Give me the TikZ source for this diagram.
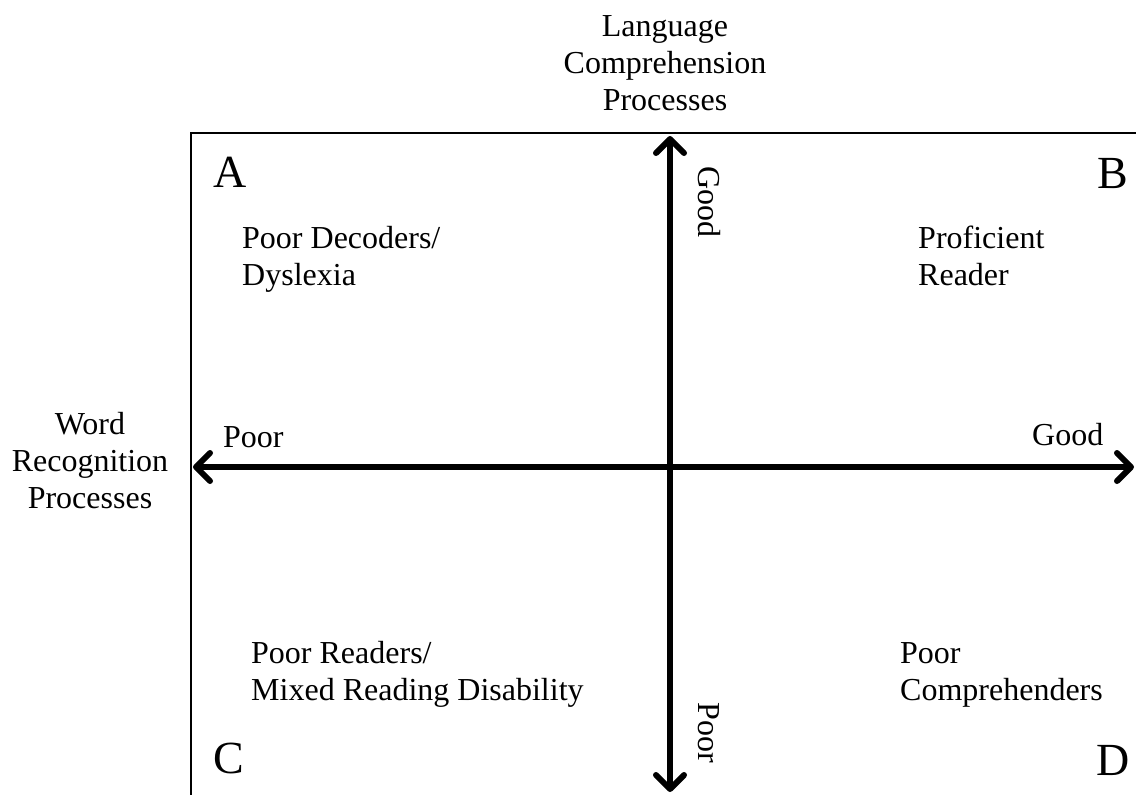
\documentclass[tikz,border=0pt]{standalone}
\usepackage{fontspec}
\setmainfont{Liberation Serif}
\usetikzlibrary{arrows.meta}

\begin{document}
\begin{tikzpicture}[
  x=1pt, y=-1pt,
  every node/.style={inner sep=0pt, font=\fontsize{32}{37}\selectfont},
  letter/.style={font=\fontsize{46}{50}\selectfont},
  group/.style={align=left, anchor=base west},
  side/.style={rotate=-90, anchor=base},
  axis/.style={line width=6pt,
    {Straight Barb[round,length=14pt,width=28pt]}-{Straight Barb[round,length=14pt,width=28pt]}},
  frame/.style={line width=2pt}
]
  \clip (0,0) rectangle (1136,795);

  % frame, runs on past the right and bottom edges
  \draw[frame] (1160,133) -- (191,133) -- (191,820);

  % the two axes
  \coordinate (west) at (193,467);
  \coordinate (east) at (1134,467);
  \coordinate (north) at (670,136);
  \coordinate (south) at (670,792);
  \draw[axis] (west) -- (east);
  \draw[axis] (south) -- (north);

  % axis titles (base = last line)
  \node[align=center, anchor=base] (lang) at (665,110) {Language\\Comprehension\\Processes};
  \node[align=center, anchor=base] (word) at (90,508) {Word\\Recognition\\Processes};

  % ends of the axes
  \node[anchor=base west] (wpoor) at (223,447) {Poor};
  \node[anchor=base west] (egood) at (1032,445) {Good};
  \node[side] (ngood) at (698,202) {Good};
  \node[side] (spoor) at (698,733) {Poor};

  % quadrants
  \node[letter, anchor=base west] (qa) at (213,187) {A};
  \node[letter, anchor=base east] (qb) at (1128,188) {B};
  \node[letter, anchor=base west] (qc) at (213,773) {C};
  \node[letter, anchor=base east] (qd) at (1130,775) {D};

  \node[group] (dys) at (242,285) {Poor Decoders/\\Dyslexia};
  \node[group] (prof) at (918,285) {Proficient\\Reader};
  \node[group] (mixed) at (251,700) {Poor Readers/\\Mixed Reading Disability};
  \node[group] (comp) at (900,700) {Poor\\Comprehenders};
\end{tikzpicture}
\end{document}
